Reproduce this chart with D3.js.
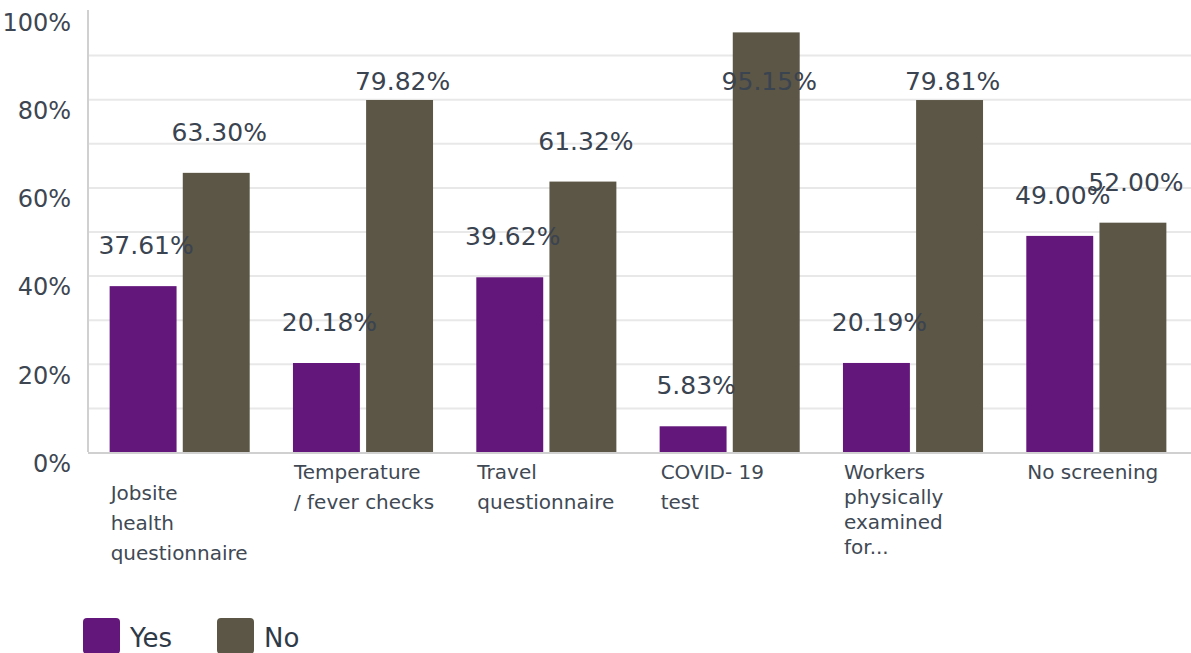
<!DOCTYPE html>
<html>
<head>
<meta charset="utf-8">
<script src="https://cdn.jsdelivr.net/npm/d3@7"></script>
<style>
  body { margin: 0; background: #fff; }
  svg { display: block; }
</style>
</head>
<body>
<div id="chart"></div>
<script>
// chart values
var categories = ["Jobsite health questionnaire", "Temperature / fever checks", "Travel questionnaire",
                  "COVID- 19 test", "Workers physically examined for...", "No screening"];
// wrapped label lines ("" = an empty first line, as in the original)
var categoryLines = [
    ["", "Jobsite", "health", "questionnaire"],
    ["Temperature", "/ fever checks"],
    ["Travel", "questionnaire"],
    ["COVID- 19", "test"],
    ["Workers", "physically", "examined", "for..."],
    ["No screening"]
];
var seriesNames = ["Yes", "No"];
var yesValues = [37.61, 20.18, 39.62, 5.83, 20.19, 49.00];
var noValues = [63.30, 79.82, 61.32, 95.15, 79.81, 52.00];
var yTickLabels = [0, 20, 40, 60, 80, 100];
var gridValues = [10, 20, 30, 40, 50, 60, 70, 80, 90];

var colors = {Yes: "#63177a", No: "#5c5646"};
var textColor = "#3a4350";

var width = 1191, height = 653;
var plotLeft = 88, plotRight = 1188, plotTop = 11, plotBottom = 452;

var svg = d3.select("#chart").append("svg")
    .attr("width", width)
    .attr("height", height);

var x0 = d3.scaleBand()
    .domain(categories)
    .range([plotLeft, plotRight])
    .paddingInner(0.236)
    .paddingOuter(0.118);

var x1 = d3.scaleBand()
    .domain(seriesNames)
    .range([0, x0.bandwidth()])
    .paddingInner(0.085);

var y = d3.scaleLinear()
    .domain([0, 100])
    .range([plotBottom, plotTop]);

// gridlines
svg.append("g")
    .attr("class", "grid")
    .attr("transform", "translate(" + plotLeft + ",0)")
    .call(d3.axisLeft(y).tickValues(gridValues).tickSize(-(width - plotLeft)).tickFormat(""))
    .call(function(g) {
        g.select(".domain").remove();
        g.selectAll("line").attr("stroke", "#e8e8e8").attr("stroke-width", 2);
    });

// y axis labels
svg.append("g")
    .attr("class", "y-axis")
    .attr("transform", "translate(" + plotLeft + ",0)")
    .call(d3.axisLeft(y).tickValues(yTickLabels).tickSize(0).tickPadding(17).tickFormat(function(d) { return d + "%"; }))
    .call(function(g) {
        g.select(".domain").remove();
        g.selectAll("text")
            .attr("dy", "0.8em")
            .style("font-family", "'DejaVu Sans', sans-serif")
            .style("font-size", "24px")
            .attr("fill", "#3d4651");
    });

var data = categories.map(function(c, i) {
    return {cat: c, lines: categoryLines[i], values: [{key: "Yes", v: yesValues[i]}, {key: "No", v: noValues[i]}]};
});

var groups = svg.selectAll(".group")
    .data(data)
    .enter().append("g")
    .attr("class", "group")
    .attr("transform", function(d) { return "translate(" + x0(d.cat) + ",0)"; });

groups.selectAll("rect")
    .data(function(d) { return d.values; })
    .enter().append("rect")
    .attr("x", function(d) { return x1(d.key); })
    .attr("y", function(d) { return y(d.v); })
    .attr("width", x1.bandwidth())
    .attr("height", function(d) { return plotBottom - y(d.v); })
    .attr("fill", function(d) { return colors[d.key]; });

// value labels
groups.selectAll(".val")
    .data(function(d) { return d.values; })
    .enter().append("text")
    .attr("class", "val")
    .attr("x", function(d) { return x1(d.key) + x1.bandwidth() / 2 + 3; })
    .attr("y", function(d) { return Math.max(y(d.v) - 41, y(100) + 70); })
    .attr("dy", "0.36em")
    .attr("text-anchor", "middle")
    .style("font-family", "'DejaVu Sans', sans-serif")
    .style("font-size", "25px")
    .attr("fill", textColor)
    .text(function(d) { return d.v.toFixed(2) + "%"; });

// axis lines
svg.append("line")
    .attr("x1", plotLeft).attr("x2", plotLeft)
    .attr("y1", plotTop - 1).attr("y2", plotBottom)
    .attr("stroke", "#d0d0d0").attr("stroke-width", 2);
svg.append("line")
    .attr("x1", plotLeft).attr("x2", width)
    .attr("y1", plotBottom + 1).attr("y2", plotBottom + 1)
    .attr("stroke", "#d0d0d0").attr("stroke-width", 2);

// category labels
groups.append("text")
    .attr("class", "cat")
    .attr("y", 472)
    .style("font-family", "'DejaVu Sans', sans-serif")
    .style("font-size", "20px")
    .attr("fill", "#404954")
    .each(function(d) {
        var lh = d.lines.length > 3 && d.lines[0] !== "" ? 25 : 30;
        var t = d3.select(this);
        d.lines.forEach(function(line, i) {
            t.append("tspan")
                .attr("x", x1("Yes") + 1)
                .attr("y", 472 + (d.lines[0] === "" ? (i - 1) * lh + 21 : i * lh))
                .attr("dy", "0.35em")
                .text(line);
        });
    });

// legend
var legend = svg.selectAll(".legend")
    .data(seriesNames)
    .enter().append("g")
    .attr("class", "legend")
    .attr("transform", function(d, i) { return "translate(" + (83 + i * 134) + ",618)"; });

legend.append("rect")
    .attr("width", 37)
    .attr("height", 36)
    .attr("rx", 4)
    .attr("fill", function(d) { return colors[d]; });

legend.append("text")
    .attr("x", 47)
    .attr("y", 20)
    .attr("dy", "0.35em")
    .style("font-family", "'DejaVu Sans', sans-serif")
    .style("font-size", "26px")
    .attr("fill", "#2f3a48")
    .text(function(d) { return d; });
</script>
</body>
</html>
